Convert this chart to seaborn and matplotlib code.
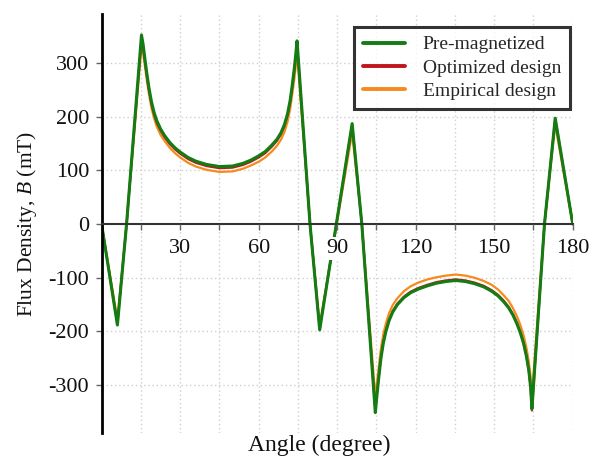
import matplotlib
matplotlib.use("Agg")
import matplotlib.pyplot as plt
import pandas as pd
import seaborn as sns

# ---- data ----
angle = [0, 6, 9.5, 15.2, 15.8, 16.5, 17.2, 18, 19, 20, 21, 22.5, 24, 26, 28, 30,
         33, 36, 40, 45, 50, 54, 57, 60, 62.5, 65, 67, 68.5, 69.8, 71, 72, 72.8,
         73.6, 74.2, 74.65, 79.6, 83.3, 95.7, 99.4,
         104.55, 105.2, 105.9, 106.7, 107.6, 108.6, 109.8, 111.2, 113, 115.5, 118,
         121, 124.5, 128, 131.5, 135.3, 139, 142.5, 146, 149, 151.5, 153.5, 155.5,
         157.2, 158.7, 160, 161.2, 162.3, 163.2, 163.9, 164.4, 169.2, 173.3, 180]

pre_magnetized = [-2, -188, 0, 352, 335, 308, 282, 255, 228, 208, 193, 177, 165, 152, 142, 134,
                  124, 117, 111, 107, 108, 113, 119, 127, 135, 147, 158, 170, 185, 205, 230, 258,
                  290, 318, 341, 0, -197, 187, 0,
                  -351, -318, -285, -250, -222, -200, -180, -164, -150, -137, -128,
                  -121, -115, -110, -107, -105, -107, -111, -117, -125, -134, -144, -156,
                  -170, -186, -203, -222, -246, -272, -303, -344, 0, 197, 0]

optimized = [-2, -186, 0, 345, 330, 303, 277, 251, 224, 204, 189, 174, 162, 149, 139, 131,
             121, 114, 108, 104, 105, 110, 116, 124, 132, 144, 155, 167, 182, 202, 226, 254,
             285, 313, 335, 0, -195, 185, 0,
             -346, -315, -282, -248, -220, -198, -178, -162, -148, -135, -126,
             -119, -113, -108, -105, -103, -105, -109, -115, -123, -132, -142, -154,
             -168, -184, -201, -221, -246, -273, -305, -347, 0, 196, 0]

empirical = [-2, -178, 0, 330, 318, 294, 269, 243, 216, 197, 182, 166, 155, 142, 132, 124,
             114, 107, 101, 97, 98, 103, 109, 116, 124, 135, 146, 157, 171, 190, 214, 241,
             270, 296, 318, 0, -188, 170, 0,
             -322, -295, -265, -232, -205, -185, -166, -151, -138, -125, -116,
             -109, -103, -99, -96, -94, -96, -100, -106, -113, -122, -132, -143,
             -157, -172, -188, -207, -230, -256, -284, -320, 0, 185, 0]

series_names = ["Pre-magnetized", "Optimized design", "Empirical design"]
series_colors = ["#137d13", "#c0151b", "#f58b1c"]
series_widths = [2.2, 1.6, 1.6]

x_ticks = [30, 60, 90, 120, 150, 180]
x_grid = [15, 30, 45, 60, 75, 90, 105, 120, 135, 150, 165, 180]
y_ticks = [-300, -200, -100, 0, 100, 200, 300]

# ---- style ----
sns.set_theme(style="white")
plt.rcParams["font.family"] = ["Liberation Serif", "DejaVu Serif"]
plt.rcParams["mathtext.fontset"] = "custom"
plt.rcParams["mathtext.rm"] = "Liberation Serif"
plt.rcParams["mathtext.it"] = "Liberation Serif:italic"

df = pd.DataFrame({
    "angle": angle * 3,
    "B": pre_magnetized + optimized + empirical,
    "series": [series_names[0]] * len(angle) + [series_names[1]] * len(angle)
              + [series_names[2]] * len(angle),
})

fig = plt.figure(figsize=(5.91, 4.59), dpi=100)
ax = fig.add_axes([0.1721, 0.0566, 0.7970, 0.9129])

# draw empirical first, pre-magnetized last (on top)
for i in [2, 1, 0]:
    sub = df[df["series"] == series_names[i]]
    sns.lineplot(data=sub, x="angle", y="B", color=series_colors[i],
                 linewidth=series_widths[i], label=series_names[i],
                 sort=False, estimator=None, ax=ax, zorder=2 + (3 - i) * 0.1)

# grid (dotted, light gray) under everything
for gx in x_grid:
    ax.axvline(gx, color="#cfcfcf", linestyle=(0, (1, 2)), linewidth=1.0, zorder=1)
for gy in y_ticks:
    if gy != 0:
        ax.axhline(gy, color="#cfcfcf", linestyle=(0, (1, 2)), linewidth=1.0, zorder=1)

ax.set_xlim(0, 180)
ax.set_ylim(-389, 391)

ax.spines["top"].set_visible(False)
ax.spines["right"].set_visible(False)
ax.spines["bottom"].set_position(("data", 0))
ax.spines["bottom"].set_color("#333333")
ax.spines["bottom"].set_linewidth(1.5)
ax.spines["left"].set_color("black")
ax.spines["left"].set_linewidth(2.0)

ax.set_xticks(x_ticks)
ax.set_xticklabels([str(v) for v in x_ticks])
ax.set_xticks(x_grid, minor=True)
ax.set_yticks(y_ticks)
ax.set_yticklabels([str(v) for v in y_ticks])
ax.tick_params(axis="x", which="both", bottom=True, direction="out", length=4,
               width=1, color="#666666", pad=7, labelsize=16, labelcolor="#111111")
ax.tick_params(axis="y", left=True, direction="out", length=4, width=1,
               color="#666666", pad=5, labelsize=16, labelcolor="#111111")

ax.xaxis.set_zorder(3)
for lab in ax.get_xticklabels():
    lab.set_bbox(dict(facecolor="white", edgecolor="none", pad=1.5))

ax.set_xlabel("Angle (degree)", fontsize=17, color="#111111")
ax.xaxis.set_label_coords(0.461, -0.005)
ax.set_ylabel("Flux Density, $B$ (mT)", fontsize=15.5, color="#111111", labelpad=7)

handles, labels = ax.get_legend_handles_labels()
order = [labels.index(n) for n in series_names]
leg = ax.legend([handles[k] for k in order], [labels[k] for k in order],
                loc="upper right", bbox_to_anchor=(0.994, 0.969), borderaxespad=0,
                fontsize=14, frameon=True, fancybox=False, edgecolor="black",
                handlelength=2.2, handletextpad=0.9, labelspacing=0.3,
                borderpad=0.45)
leg.get_frame().set_linewidth(2.2)
for h in leg.get_lines():
    h.set_linewidth(2.8)
leg.set_zorder(5)

fig.savefig("out.png", dpi=100)
